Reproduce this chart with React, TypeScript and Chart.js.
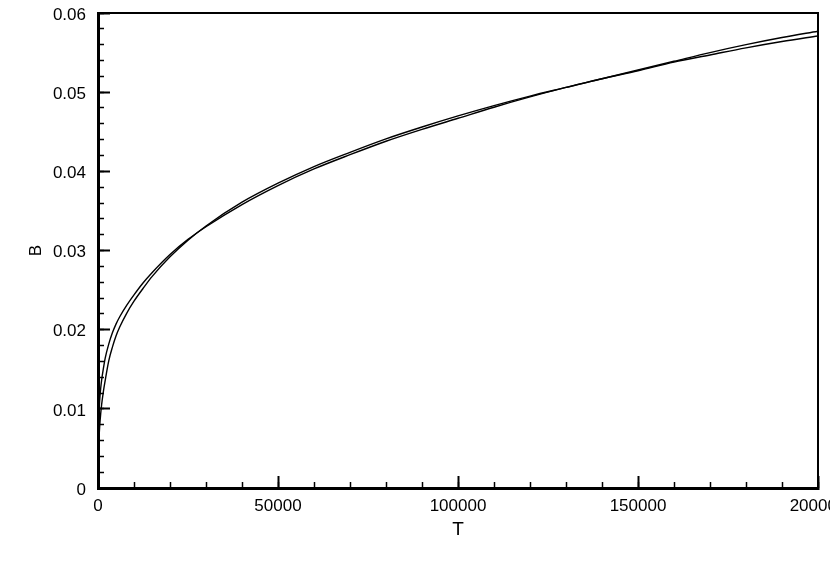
import React, { useEffect, useRef } from "react";
import { Chart, registerables } from "chart.js";

Chart.register(...registerables);

// ---- data ----
const T_VALUES = [
  0, 100, 250, 500, 750, 1000, 1500, 2000, 3000, 4000, 5000, 6000, 8000, 10000,
  12500, 15000, 20000, 25000, 30000, 40000, 50000, 60000, 70000, 80000, 90000,
  100000, 110000, 120000, 130000, 140000, 150000, 160000, 170000, 180000, 190000, 200000,
];
const B_CURVE_1 = [
  0, 0.0072, 0.0093, 0.0113, 0.0126, 0.0136, 0.0151, 0.0164, 0.0182, 0.0196, 0.0207, 0.0216, 0.0231, 0.0244,
  0.0259, 0.0272, 0.0295, 0.0314, 0.033, 0.0358, 0.0382, 0.0403, 0.0421, 0.0438, 0.0453,
  0.0467, 0.0481, 0.0494, 0.0506, 0.0517, 0.0528, 0.0539, 0.055, 0.056, 0.0569, 0.0577,
];
const B_CURVE_2 = [
  0, 0.004, 0.006, 0.008, 0.0094, 0.0105, 0.0122, 0.0136, 0.0161, 0.0178, 0.0192, 0.0203, 0.0221, 0.0236,
  0.0252, 0.0267, 0.0292, 0.0313, 0.0331, 0.0361, 0.0385, 0.0406, 0.0424, 0.0441, 0.0456,
  0.047, 0.0483, 0.0495, 0.0506, 0.0517, 0.0527, 0.0538, 0.0547, 0.0556, 0.0564, 0.0571,
];

const X_MIN = 0;
const X_MAX = 200000;
const X_MAJOR_STEP = 50000;
const X_MINOR_STEP = 10000;
const Y_MIN = 0;
const Y_MAX = 0.06;
const Y_MAJOR_STEP = 0.01;
const Y_MINOR_STEP = 0.002;
const X_TITLE = "T";
const Y_TITLE = "B";

const FONT = "'Liberation Sans', Arial, Helvetica, sans-serif";

export default function App() {
  const ref = useRef<HTMLCanvasElement | null>(null);

  useEffect(() => {
    if (!ref.current) return;

    const framePlugin = {
      id: "frame",
      afterDraw(chart: any) {
        const { ctx, chartArea } = chart;
        const { left, right, top, bottom } = chartArea;
        ctx.save();
        ctx.strokeStyle = "#000";
        ctx.lineWidth = 2;
        ctx.beginPath();
        ctx.moveTo(left, top);
        ctx.lineTo(right, top);
        ctx.lineTo(right, bottom);
        ctx.stroke();
        ctx.restore();
      },
    };

    const toPoints = (ys: number[]) => T_VALUES.map((t, i) => ({ x: t, y: ys[i] }));

    const lineStyle = {
      borderColor: "#000",
      borderWidth: 1.4,
      pointRadius: 0,
      fill: false,
      cubicInterpolationMode: "monotone",
      xAxisID: "x",
      yAxisID: "y",
    };

    const fitVertical = (w: number) => (s: any) => {
      s.width = w;
      s.paddingTop = 0;
      s.paddingBottom = 0;
    };
    const fitHorizontal = (h: number) => (s: any) => {
      s.height = h;
      s.paddingLeft = 0;
      s.paddingRight = 0;
    };

    const chart = new Chart(ref.current, {
      type: "line",
      data: {
        datasets: [
          { ...lineStyle, data: toPoints(B_CURVE_1) },
          { ...lineStyle, data: toPoints(B_CURVE_2) },
        ],
      },
      options: {
        responsive: false,
        animation: false,
        devicePixelRatio: 1,
        layout: { padding: { left: 0, top: 13, right: 62, bottom: 0 } },
        plugins: {
          legend: { display: false },
          tooltip: { enabled: false },
        },
        scales: {
          x: {
            type: "linear",
            axis: "x",
            position: "bottom",
            min: X_MIN,
            max: X_MAX,
            weight: 1,
            afterFit: fitHorizontal(98),
            ticks: {
              stepSize: X_MAJOR_STEP,
              autoSkip: false,
              maxRotation: 0,
              minRotation: 0,
              padding: 20,
              color: "#000",
              font: { family: FONT, size: 17 },
              callback: (v: any) => String(v),
            },
            grid: {
              drawOnChartArea: false,
              tickLength: -12,
              tickWidth: 2,
              tickColor: "#000",
            },
            border: { display: true, width: 3, color: "#000" },
            title: {
              display: true,
              text: X_TITLE,
              color: "#000",
              font: { family: FONT, size: 19 },
              padding: { top: 0, bottom: 45 },
            },
          },
          xMinor: {
            type: "linear",
            axis: "x",
            position: "bottom",
            min: X_MIN,
            max: X_MAX,
            weight: 0,
            afterFit: fitHorizontal(0),
            ticks: { display: false, stepSize: X_MINOR_STEP },
            grid: {
              drawOnChartArea: false,
              tickLength: -6,
              tickWidth: 1.5,
              tickColor: "#000",
            },
            border: { display: false },
          },
          y: {
            type: "linear",
            axis: "y",
            position: "left",
            min: Y_MIN,
            max: Y_MAX,
            weight: 1,
            afterFit: fitVertical(98),
            ticks: {
              stepSize: Y_MAJOR_STEP,
              autoSkip: false,
              padding: 24,
              labelOffset: 2,
              color: "#000",
              font: { family: FONT, size: 17 },
              callback: (v: any) => String(Number(Number(v).toFixed(3))),
            },
            grid: {
              drawOnChartArea: false,
              tickLength: -12,
              tickWidth: 2,
              tickColor: "#000",
            },
            border: { display: true, width: 3, color: "#000" },
            title: {
              display: true,
              text: Y_TITLE,
              color: "#000",
              font: { family: FONT, size: 17 },
              padding: { top: 26, bottom: 0 },
            },
          },
          yMinor: {
            type: "linear",
            axis: "y",
            position: "left",
            min: Y_MIN,
            max: Y_MAX,
            weight: 0,
            afterFit: fitVertical(0),
            ticks: { display: false, stepSize: Y_MINOR_STEP },
            grid: {
              drawOnChartArea: false,
              tickLength: -6,
              tickWidth: 1.5,
              tickColor: "#000",
            },
            border: { display: false },
          },
        },
      } as any,
      plugins: [framePlugin],
    });

    return () => chart.destroy();
  }, []);

  return (
    <div
      style={{
        position: "fixed",
        left: 0,
        top: 0,
        width: 830,
        height: 586,
        overflow: "hidden",
        background: "#fff",
      }}
    >
      <canvas ref={ref} width={880} height={586} style={{ display: "block" }} />
    </div>
  );
}
